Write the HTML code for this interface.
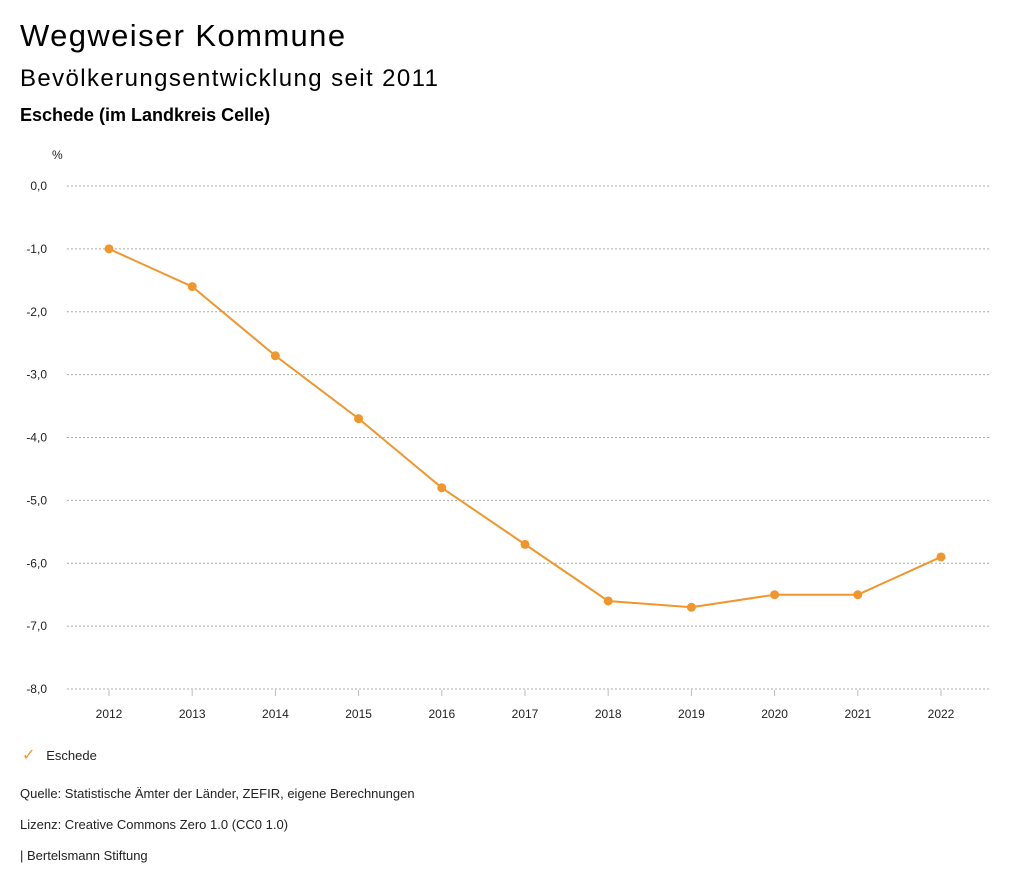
<!DOCTYPE html>
<html><head><meta charset="utf-8"><style>
body{margin:0;width:1024px;height:888px;background:#fff;font-family:"Liberation Sans","DejaVu Sans",sans-serif;color:#000;overflow:hidden}
.t{position:absolute;left:20px;white-space:nowrap}
</style></head><body>
<div class="t" style="top:18px;font-size:31px;letter-spacing:1.4px">Wegweiser Kommune</div>
<div class="t" style="top:65px;font-size:24px;letter-spacing:1.4px">Bevölkerungsentwicklung seit 2011</div>
<div class="t" style="top:105px;font-size:18px;font-weight:bold">Eschede (im Landkreis Celle)</div>
<svg id="chart" width="1024" height="888" style="position:absolute;left:0;top:0" font-family="Liberation Sans, DejaVu Sans, sans-serif"></svg>
<div class="t" style="top:745px;left:22px;font-size:13px;color:#222"><span style="color:#f0962d;font-size:16px">✓</span>&nbsp;&nbsp;&nbsp;Eschede</div>
<div class="t" style="top:786px;font-size:13px;color:#222">Quelle: Statistische Ämter der Länder, ZEFIR, eigene Berechnungen</div>
<div class="t" style="top:817px;font-size:13px;color:#222">Lizenz: Creative Commons Zero 1.0 (CC0 1.0)</div>
<div class="t" style="top:848px;font-size:13px;color:#222">| Bertelsmann Stiftung</div>
<script>
const years=[2012,2013,2014,2015,2016,2017,2018,2019,2020,2021,2022];
const values=[-1.0,-1.6,-2.7,-3.7,-4.8,-5.7,-6.6,-6.7,-6.5,-6.5,-5.9];
const yTicks=[0,-1,-2,-3,-4,-5,-6,-7,-8];
const yLabels=["0,0","-1,0","-2,0","-3,0","-4,0","-5,0","-6,0","-7,0","-8,0"];
const ns="http://www.w3.org/2000/svg",svg=document.getElementById('chart');
const yS=v=>186+(0-v)*62.875;
const xS=i=>109+i*83.2;
function mk(t,a){const e=document.createElementNS(ns,t);for(const k in a)e.setAttribute(k,a[k]);svg.appendChild(e);return e;}
let u=mk('text',{x:52,y:159,'font-size':12,fill:'#222'});u.textContent='%';


yTicks.forEach((v,i)=>{
 const g=mk('line',{x1:67,x2:990,y1:yS(v),y2:yS(v),stroke:'#aaa','stroke-dasharray':'2,2','stroke-width':1});
 
 
 const t=mk('text',{x:47,y:yS(v)+4,'font-size':12,fill:'#222','text-anchor':'end'});t.textContent=yLabels[i];
 
 
});
years.forEach((y,i)=>{
 const l=mk('line',{x1:xS(i),x2:xS(i),y1:690,y2:696,stroke:'#bbb'});
 
 
 const t=mk('text',{x:xS(i),y:718,'font-size':12,fill:'#222','text-anchor':'middle'});t.textContent=y;
 
 
});
const p=mk('polyline',{points:values.map((v,i)=>xS(i)+','+yS(v)).join(' '),fill:'none',stroke:'#f0962d','stroke-width':2});


values.forEach((v,i)=>{
 const c=mk('circle',{cx:xS(i),cy:yS(v),r:4.5,fill:'#f0962d'});
 
 
});
</script>
</body></html>
